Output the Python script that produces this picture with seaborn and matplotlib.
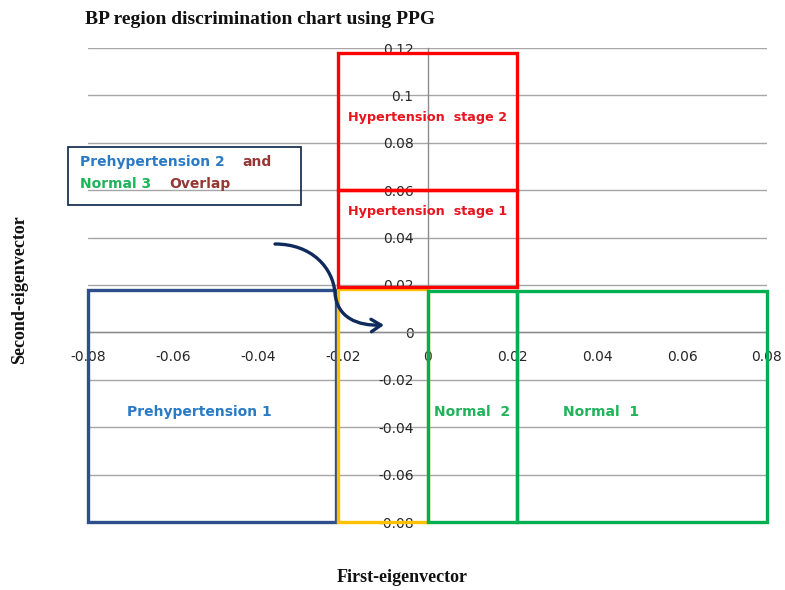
import matplotlib
matplotlib.use("Agg")
import matplotlib.pyplot as plt
import seaborn as sns
import pandas as pd
from matplotlib.patches import Rectangle, FancyArrowPatch
from matplotlib.path import Path

# ---- data ----
x_ticks = [-0.08, -0.06, -0.04, -0.02, 0, 0.02, 0.04, 0.06, 0.08]
x_tick_labels = ["-0.08", "-0.06", "-0.04", "-0.02", "0", "0.02", "0.04", "0.06", "0.08"]
y_ticks = [-0.08, -0.06, -0.04, -0.02, 0, 0.02, 0.04, 0.06, 0.08, 0.1, 0.12]
y_tick_labels = ["-0.08", "-0.06", "-0.04", "-0.02", "0", "0.02", "0.04", "0.06", "0.08", "0.1", "0.12"]

region_names = ["Hypertension  stage 2", "Hypertension  stage 1", "Prehypertension 1",
                "Overlap", "Normal  2", "Normal  1"]
region_x0 = [-0.021, -0.021, -0.08, -0.021, 0.0, 0.021]
region_x1 = [0.021, 0.021, -0.0215, 0.0, 0.021, 0.08]
region_y0 = [0.06, 0.019, -0.08, -0.08, -0.08, -0.08]
region_y1 = [0.118, 0.06, 0.018, 0.0185, 0.0175, 0.0175]
region_edge = ["#ff0000", "#ff0000", "#2f4f8a", "#ffc000", "#00b050", "#00b050"]
label_x = [0.0, 0.0, -0.0538, None, 0.0105, 0.0408]
label_y = [0.0905, 0.051, -0.0334, None, -0.0334, -0.0334]
label_color = ["#e8141e", "#e8141e", "#2a7ac4", None, "#1fb35a", "#1fb35a"]
label_size = [9.2, 9.2, 10, None, 10, 10]

regions = pd.DataFrame({"name": region_names, "x0": region_x0, "x1": region_x1,
                        "y0": region_y0, "y1": region_y1, "edge": region_edge,
                        "lx": label_x, "ly": label_y, "lc": label_color, "ls": label_size})

sns.set_theme(style="white")
plt.rcParams["font.family"] = ["DejaVu Sans"]
plt.rcParams["axes.unicode_minus"] = False

W, H = 785, 590
fig = plt.figure(figsize=(W / 100, H / 100), dpi=100)
ax = fig.add_axes([88 / W, 1 - 522 / H, (767 - 88) / W, (522 - 48) / H])

ax.set_xlim(-0.08, 0.08)
ax.set_ylim(-0.08, 0.12)

ax.set_yticks(y_ticks)
ax.set_yticklabels(y_tick_labels)
ax.set_xticks(x_ticks)
ax.set_xticklabels(x_tick_labels)
ax.yaxis.grid(True, color="#a6a6a6", lw=1.0)
ax.xaxis.grid(False)

for s in ["top", "right"]:
    ax.spines[s].set_visible(False)
ax.spines["left"].set_position(("data", 0))
ax.spines["bottom"].set_position(("data", 0))
ax.spines["left"].set_color("#8c8c8c")
ax.spines["bottom"].set_color("#8c8c8c")
ax.spines["left"].set_linewidth(1.0)
ax.spines["bottom"].set_linewidth(1.0)
ax.tick_params(axis="both", length=0, labelsize=10, labelcolor="#262626")
ax.tick_params(axis="y", pad=10)
ax.tick_params(axis="x", pad=13)
ax.set_facecolor("white")

# region boxes
order = [2, 3, 4, 5, 1, 0]
for i in order:
    r = regions.iloc[i]
    ax.add_patch(Rectangle((r.x0, r.y0), r.x1 - r.x0, r.y1 - r.y0, fill=False,
                           edgecolor=r.edge, lw=2.4, zorder=3, clip_on=False))
for _, r in regions.iterrows():
    if r.lc is not None and pd.notna(r.lx):
        ax.text(r.lx, r.ly, r["name"], color=r.lc, ha="center", va="center",
                fontsize=r.ls, fontweight="bold", zorder=4)

def px(x, y):
    return (x / W, 1 - y / H)

# annotation box
bx0, by0 = px(68, 205)
bx1, by1 = px(301, 147)
fig.patches.append(Rectangle((bx0, by0), bx1 - bx0, by1 - by0, transform=fig.transFigure,
                             fill=False, edgecolor="#1f3356", lw=1.3, zorder=5))
txt_kw = dict(fontsize=10, fontweight="bold", va="center", ha="left")
fig.text(*px(80, 162), "Prehypertension 2", color="#2a7ac4", **txt_kw)
fig.text(*px(242, 162), "and", color="#953735", **txt_kw)
fig.text(*px(80, 184), "Normal 3", color="#1fb35a", **txt_kw)
fig.text(*px(169, 184), "Overlap", color="#953735", **txt_kw)

# curved arrow
verts = [px(275, 244), px(312, 244), px(333, 268), px(335, 293),
         px(337, 318), px(358, 326), px(384, 325)]
codes = [Path.MOVETO, Path.CURVE4, Path.CURVE4, Path.CURVE4,
         Path.CURVE4, Path.CURVE4, Path.CURVE4]
arrow = FancyArrowPatch(path=Path(verts, codes), transform=fig.transFigure,
                        arrowstyle="->,head_length=7,head_width=4.5",
                        color="#0f2a5c", lw=2.4, zorder=6)
fig.patches.append(arrow)

# titles
serif = ["Liberation Serif", "DejaVu Serif"]
fig.text(*px(260, 19), "BP region discrimination chart using PPG", ha="center", va="center",
         fontsize=14, fontweight="bold", family=serif, color="#111111")
fig.text(*px(402, 577), "First-eigenvector", ha="center", va="center",
         fontsize=13, fontweight="bold", family=serif, color="#111111")
fig.text(*px(20, 290), "Second-eigenvector", ha="center", va="center", rotation=90,
         fontsize=13, fontweight="bold", family=serif, color="#111111")

fig.savefig("out.png", dpi=100, facecolor="white")
